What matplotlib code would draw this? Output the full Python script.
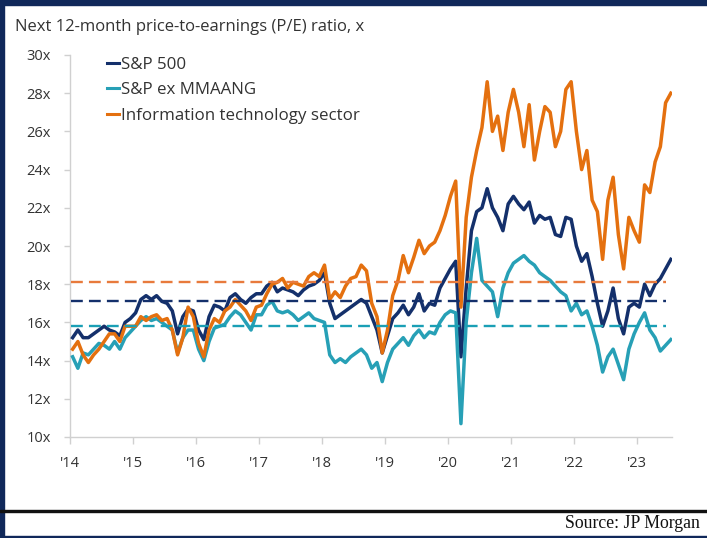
import matplotlib
matplotlib.use("Agg")
import matplotlib.pyplot as plt
import numpy as np
from matplotlib.lines import Line2D
from matplotlib.patches import Rectangle

# ---------------- data (monthly, Jan 2014 .. Jul 2023) ----------------
years = list(range(2014, 2024))
sp500 = [
    15.2, 15.6, 15.2, 15.2, 15.4, 15.6, 15.8, 15.6, 15.5, 15.3, 16.0, 16.2,   # 2014
    16.5, 17.2, 17.4, 17.2, 17.4, 17.1, 17.0, 16.6, 15.4, 16.3, 16.7, 16.6,   # 2015
    15.6, 15.1, 16.3, 16.9, 16.8, 16.6, 17.3, 17.5, 17.2, 17.0, 17.3, 17.5,   # 2016
    17.5, 17.9, 18.1, 17.6, 17.8, 17.7, 17.6, 17.4, 17.7, 17.9, 18.0, 18.2,   # 2017
    18.6, 17.0, 16.2, 16.4, 16.6, 16.8, 17.0, 17.2, 17.0, 16.3, 15.6, 14.4,   # 2018
    15.3, 16.2, 16.5, 16.9, 16.4, 16.8, 17.5, 16.6, 17.0, 16.9, 17.8, 18.3,   # 2019
    18.8, 19.2, 14.2, 17.8, 20.8, 21.8, 22.0, 23.0, 22.0, 21.5, 20.8, 22.2,   # 2020
    22.6, 22.2, 21.9, 22.3, 21.2, 21.6, 21.4, 21.5, 20.6, 20.5, 21.5, 21.4,   # 2021
    20.0, 19.2, 19.6, 18.4, 17.0, 15.8, 16.6, 17.8, 16.2, 15.4, 16.8, 17.0,   # 2022
    16.8, 18.0, 17.4, 18.0, 18.3, 18.8, 19.3,                                 # 2023
]
sp_ex = [
    14.2, 13.6, 14.4, 14.3, 14.6, 14.9, 14.8, 14.6, 15.0, 14.6, 15.2, 15.5,   # 2014
    15.8, 16.1, 16.3, 16.1, 16.2, 16.0, 15.8, 15.6, 14.4, 15.2, 15.6, 15.6,   # 2015
    14.6, 14.0, 15.0, 15.7, 15.8, 15.9, 16.3, 16.6, 16.4, 16.0, 15.6, 16.4,   # 2016
    16.4, 16.9, 17.1, 16.6, 16.5, 16.6, 16.4, 16.1, 16.3, 16.5, 16.2, 16.1,   # 2017
    16.0, 14.3, 13.9, 14.1, 13.9, 14.2, 14.4, 14.6, 14.3, 13.6, 13.9, 12.9,   # 2018
    13.9, 14.6, 14.9, 15.2, 14.8, 15.3, 15.6, 15.2, 15.5, 15.4, 16.0, 16.4,   # 2019
    16.6, 16.5, 10.7, 16.0, 18.6, 20.4, 18.2, 17.9, 17.6, 16.3, 17.8, 18.6,   # 2020
    19.1, 19.3, 19.5, 19.2, 19.0, 18.6, 18.4, 18.2, 17.9, 17.6, 17.4, 16.6,   # 2021
    17.0, 16.4, 16.6, 15.8, 14.8, 13.4, 14.2, 14.6, 13.8, 13.0, 14.6, 15.4,   # 2022
    16.0, 16.5, 15.6, 15.2, 14.5, 14.8, 15.1,                                 # 2023
]
info_tech = [
    14.6, 15.0, 14.3, 13.9, 14.3, 14.6, 15.0, 15.4, 15.4, 15.0, 15.8, 15.8,   # 2014
    15.8, 16.3, 16.1, 16.3, 16.4, 16.1, 16.2, 15.6, 14.3, 15.2, 16.8, 16.3,   # 2015
    14.9, 14.2, 15.6, 16.2, 16.0, 16.6, 16.8, 17.2, 16.9, 16.6, 16.1, 16.8,   # 2016
    16.9, 17.5, 18.0, 18.1, 18.3, 17.8, 18.1, 18.0, 17.9, 18.4, 18.6, 18.4,   # 2017
    19.0, 17.2, 17.6, 17.3, 17.9, 18.3, 18.4, 19.0, 18.7, 17.0, 16.3, 14.4,   # 2018
    15.6, 17.4, 18.2, 19.5, 18.6, 19.4, 20.3, 19.6, 20.0, 20.2, 20.8, 21.6,   # 2019
    22.6, 23.4, 16.8, 21.5, 23.6, 25.0, 26.2, 28.6, 26.0, 26.8, 25.0, 27.0,   # 2020
    28.2, 27.0, 25.2, 27.4, 24.5, 26.0, 27.3, 27.0, 25.2, 26.0, 28.2, 28.6,   # 2021
    26.0, 24.0, 25.0, 22.4, 21.8, 19.3, 22.4, 23.6, 20.6, 18.8, 21.5, 20.8,   # 2022
    20.2, 23.2, 22.8, 24.4, 25.2, 27.5, 28.0,                                 # 2023
]
avg_sp500 = 17.1
avg_sp_ex = 15.8
avg_it = 18.1

series_names = ["S&P 500", "S&P ex MMAANG", "Information technology sector"]
year_labels = ["'14", "'15", "'16", "'17", "'18", "'19", "'20", "'21", "'22", "'23"]
ytick_vals = [10, 12, 14, 16, 18, 20, 22, 24, 26, 28, 30]

n = len(sp500)
dates = np.array([2014 + (i + 0.5) / 12.0 for i in range(n)])

# ---------------- styling ----------------
NAVY = "#14306b"
TEAL = "#27a0b6"
ORANGE = "#e4700f"
AXISGRAY = "#d0d0d0"
TEXT = "#333333"
FONT = ["Open Sans", "DejaVu Sans"]

plt.rcParams["font.family"] = FONT

fig = plt.figure(figsize=(7.07, 5.38), dpi=100)
fig.patch.set_facecolor("white")
ax = fig.add_axes([70 / 707, 1 - 437 / 538, (672 - 70) / 707, (437 - 55) / 538])

lw = 2.5
ax.plot(dates, sp500, color=NAVY, lw=lw, zorder=3, solid_joinstyle="round")
ax.plot(dates, sp_ex, color=TEAL, lw=lw, zorder=3.1, solid_joinstyle="round")
ax.plot(dates, info_tech, color=ORANGE, lw=lw, zorder=3.2, solid_joinstyle="round")

dash = (5.0, 2.6)
x0, x1 = dates[0] - 0.02, dates[-1] - 0.08
ax.plot([x0, x1], [avg_it, avg_it], color="#e87a3c", lw=1.7, dashes=dash, zorder=4)
ax.plot([x0, x1], [avg_sp500, avg_sp500], color=NAVY, lw=1.7, dashes=dash, zorder=4)
ax.plot([x0, x1], [avg_sp_ex, avg_sp_ex], color="#1a9fb5", lw=1.7, dashes=dash, zorder=4)

ax.set_xlim(2014, 2023.56)
ax.set_ylim(10, 30)
ax.set_yticks(ytick_vals)
ax.set_yticklabels([f"{v}x" for v in ytick_vals])
ax.set_xticks(years)
ax.set_xticklabels(year_labels)

for s in ["top", "right"]:
    ax.spines[s].set_visible(False)
for s in ["left", "bottom"]:
    ax.spines[s].set_color(AXISGRAY)
    ax.spines[s].set_linewidth(1.0)
ax.tick_params(axis="y", length=4, color=AXISGRAY, width=1, labelsize=10.5,
               labelcolor=TEXT, pad=10)
ax.tick_params(axis="x", length=5, color=AXISGRAY, width=1, labelsize=10.5,
               labelcolor=TEXT, pad=9)

# legend
handles = [Line2D([0], [0], color=c, lw=2.2) for c in (NAVY, TEAL, ORANGE)]
fig.legend(handles, series_names, loc="upper left",
           bbox_to_anchor=(107 / 707, 1 - 57 / 538), frameon=False,
           fontsize=12.2, handlelength=0.7, handletextpad=0.1,
           labelspacing=0.55, borderaxespad=0, borderpad=0,
           labelcolor=TEXT)

# title
fig.text(15 / 707, 1 - 27 / 538, "Next 12-month price-to-earnings (P/E) ratio, x",
         fontsize=12, color=TEXT, va="center", ha="left")

# frame decorations
fig.patches.append(Rectangle((0, 1 - 5 / 538), 1, 5 / 538, transform=fig.transFigure,
                             color="#10285a", zorder=10))
fig.patches.append(Rectangle((0, 0), 3.5 / 707, 1, transform=fig.transFigure,
                             color="#10285a", zorder=10))
fig.patches.append(Rectangle((0, 1 - 512 / 538), 1, 2.5 / 538, transform=fig.transFigure,
                             color="#111111", zorder=10))
fig.patches.append(Rectangle((0, 0), 1, 2 / 538, transform=fig.transFigure,
                             color="#10285a", zorder=10))

fig.text(700 / 707, 1 - 524 / 538, "Source: JP Morgan", fontsize=12.8,
         family=["Liberation Serif", "DejaVu Serif"], color="#111111",
         ha="right", va="center")

fig.savefig("out.png", dpi=100)
